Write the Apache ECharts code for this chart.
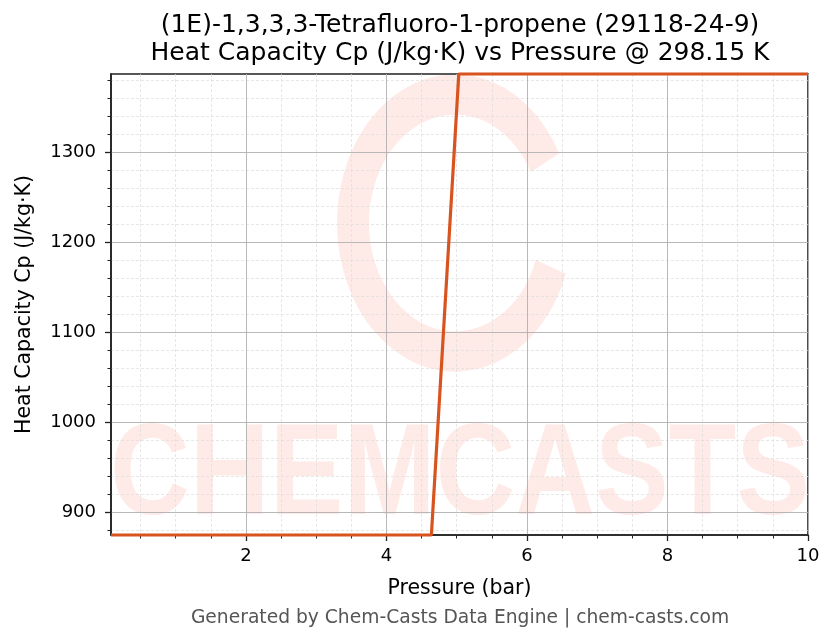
<!DOCTYPE html>
<html>
<head>
<meta charset="utf-8">
<script src="https://cdn.jsdelivr.net/npm/echarts@6/dist/echarts.min.js"></script>
<style>html,body{margin:0;padding:0;background:#fff}#c{width:836px;height:644px}</style>
</head>
<body>
<div id="c"></div>
<script>
var titleLines = ['(1E)-1,3,3,3-Tetrafluoro-1-propene (29118-24-9)', 'Heat Capacity Cp (J/kg\u00b7K) vs Pressure @ 298.15 K'];
var xName = 'Pressure (bar)';
var yName = 'Heat Capacity Cp (J/kg\u00b7K)';
var footer = 'Generated by Chem-Casts Data Engine | chem-casts.com';
var pressure = [0.08, 4.64, 5.03, 10];
var cp = [874.4, 874.4, 1386.7, 1386.7];
var xMin = 0.08, xMax = 10, yMin = 874.4, yMax = 1386.7;
var xTicks = [2, 4, 6, 8, 10];
var yTicks = [900, 1000, 1100, 1200, 1300];
var xMinorTicks = [0.5, 1, 1.5, 2.5, 3, 3.5, 4.5, 5, 5.5, 6.5, 7, 7.5, 8.5, 9, 9.5];
var yMinorTicks = [880, 920, 940, 960, 980, 1020, 1040, 1060, 1080, 1120, 1140, 1160, 1180,
                   1220, 1240, 1260, 1280, 1320, 1340, 1360, 1380];

var chart = echarts.init(document.getElementById('c'), null, {renderer: 'canvas'});
var font = 'DejaVu Sans';
var wm = '#feebe8';
var ink = '#222';

function majorAxis(isX) {
  return {
    type: 'value', min: isX ? xMin : yMin, max: isX ? xMax : yMax,
    name: isX ? xName : yName, nameLocation: 'middle', nameGap: isX ? 43 : 76,
    nameTextStyle: {fontFamily: font, fontSize: 20.5, color: '#000'},
    axisLine: {show: true, onZero: false, lineStyle: {color: ink, width: 1.6}},
    axisTick: {show: true, length: 6, customValues: isX ? xTicks : yTicks, lineStyle: {color: ink, width: 1.3}},
    axisLabel: {fontFamily: font, fontSize: 18, color: '#000', margin: isX ? 12 : 15,
                customValues: isX ? xTicks : yTicks,
                formatter: function (v) { return String(v); }},
    splitLine: {show: true, lineStyle: {color: '#b0b0b0', width: 0.9}},
    z: 3
  };
}
function minorAxis(isX) {
  return {
    type: 'value', min: isX ? xMin : yMin, max: isX ? xMax : yMax,
    position: isX ? 'bottom' : 'left',
    axisLine: {show: false},
    axisTick: {show: true, length: 3.5, customValues: isX ? xMinorTicks : yMinorTicks, lineStyle: {color: ink, width: 1}},
    axisLabel: {show: false, customValues: isX ? xMinorTicks : yMinorTicks},
    splitLine: {show: true, lineStyle: {color: '#dcdcdc', width: 0.7, type: [3, 2]}},
    z: 2
  };
}

chart.setOption({
  backgroundColor: '#fff',
  animation: false,
  title: {
    text: titleLines.join('\n'),
    left: 460, top: 11, textAlign: 'center', padding: 0,
    textStyle: {fontFamily: font, fontSize: 25, fontWeight: 'normal', color: '#000', lineHeight: 28}
  },
  graphic: [
    {type: 'sector', z: -5, silent: true, x: 455, y: 223, scaleY: 1.26,
     shape: {cx: 0, cy: 0, r: 118, r0: 86, startAngle: 20 * Math.PI / 180, endAngle: 332 * Math.PI / 180, clockwise: true},
     style: {fill: wm}},
    {type: 'text', z: -5, silent: true, x: 460, y: 478, scaleX: 0.85, originX: 0, originY: 0,
     style: {text: 'CHEMCASTS', font: 'bold 130px "Liberation Sans"', fill: wm, align: 'center', verticalAlign: 'middle'}},
    {type: 'text', x: 460, y: 618,
     style: {text: footer, font: '18.7px "DejaVu Sans"', fill: '#555', align: 'center', verticalAlign: 'middle'}}
  ],
  grid: {left: 111, right: 28, top: 74, bottom: 109, show: true, borderColor: ink, borderWidth: 1.6, backgroundColor: 'transparent'},
  xAxis: [majorAxis(true), minorAxis(true)],
  yAxis: [majorAxis(false), minorAxis(false)],
  series: [{
    type: 'line', symbol: 'none', clip: false, z: 5,
    data: pressure.map(function (p, i) { return [p, cp[i]]; }),
    lineStyle: {color: '#d9531e', width: 3.2}
  }]
});
</script>
</body>
</html>
